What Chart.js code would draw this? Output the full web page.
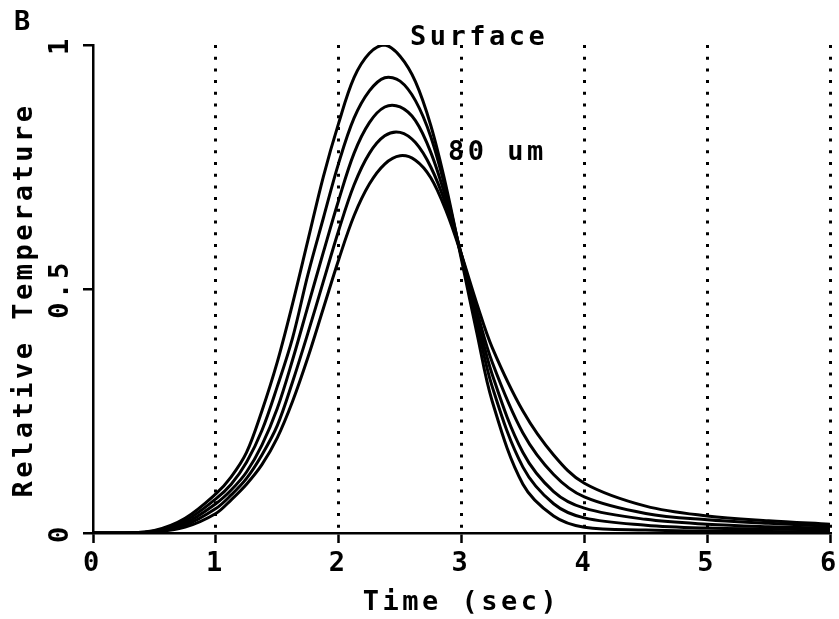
<!DOCTYPE html>
<html><head><meta charset="utf-8">
<script src="https://cdn.jsdelivr.net/npm/chart.js@4/dist/chart.umd.min.js"></script>
<style>html,body{margin:0;padding:0;background:#fff}canvas{display:block}</style>
</head><body>
<canvas id="c" width="839" height="619"></canvas>
<script>
// ---- data ----
const time    = [0, 0.25, 0.5, 0.75, 1.0, 1.125, 1.25, 1.375, 1.5, 1.625, 1.75, 1.875, 2.0, 2.125, 2.25, 2.375, 2.5, 2.625, 2.75, 2.875, 3.0, 3.125, 3.25, 3.5, 3.75, 4.0, 4.5, 5.0, 5.5, 6.0];
const surface = [0, 0, 0.005, 0.03, 0.08, 0.115, 0.165, 0.25, 0.35, 0.47, 0.60, 0.73, 0.84, 0.933, 0.983, 1.0, 0.977, 0.925, 0.835, 0.71, 0.56, 0.41, 0.27, 0.10, 0.035, 0.012, 0.006, 0.004, 0.003, 0.002];
const depth20 = [0, 0, 0.004, 0.025, 0.07, 0.10, 0.145, 0.21, 0.30, 0.40, 0.53, 0.645, 0.758, 0.85, 0.906, 0.933, 0.926, 0.886, 0.812, 0.70, 0.565, 0.43, 0.30, 0.135, 0.06, 0.031, 0.016, 0.010, 0.008, 0.006];
const depth40 = [0, 0, 0.003, 0.02, 0.06, 0.088, 0.125, 0.18, 0.255, 0.355, 0.465, 0.575, 0.682, 0.778, 0.841, 0.873, 0.873, 0.845, 0.78, 0.685, 0.57, 0.445, 0.325, 0.165, 0.085, 0.051, 0.028, 0.018, 0.013, 0.01];
const depth60 = [0, 0, 0.0025, 0.016, 0.05, 0.078, 0.112, 0.16, 0.22, 0.31, 0.41, 0.515, 0.62, 0.713, 0.778, 0.814, 0.821, 0.80, 0.75, 0.672, 0.57, 0.455, 0.35, 0.205, 0.12, 0.074, 0.04, 0.027, 0.02, 0.014];
const depth80 = [0, 0, 0.002, 0.012, 0.04, 0.068, 0.10, 0.14, 0.195, 0.27, 0.36, 0.46, 0.56, 0.65, 0.715, 0.756, 0.773, 0.764, 0.728, 0.66, 0.57, 0.47, 0.38, 0.25, 0.16, 0.102, 0.055, 0.035, 0.025, 0.018];
const seriesNames = ['Surface', '20 um', '40 um', '60 um', '80 um'];
const seriesValues = [surface, depth20, depth40, depth60, depth80];
const xTicks = [0, 1, 2, 3, 4, 5, 6];
const yTicks = [0, 0.5, 1];
const xTitle = 'Time (sec)';
const yTitle = 'Relative Temperature';
const panelLabel = 'B';
const notes = [{text: 'Surface', x: 2.58, y: 1.014}, {text: '80 um', x: 2.89, y: 0.779}];

// ---- styling ----
const FONT = 'DejaVu Sans Mono';
const SPACING = '3.5px';
Chart.defaults.font.family = FONT;
Chart.defaults.font.size = 27;
Chart.defaults.font.weight = 'bold';
Chart.defaults.color = '#000';

const spacingPlugin = {
  id: 'spacing',
  beforeUpdate(chart) { chart.ctx.letterSpacing = SPACING; },
  beforeDraw(chart) { chart.ctx.letterSpacing = SPACING; }
};
const notesPlugin = {
  id: 'notes',
  afterDraw(chart) {
    const {ctx, scales: {x, y}} = chart;
    ctx.save();
    ctx.letterSpacing = SPACING;
    ctx.fillStyle = '#000';
    ctx.font = 'bold 27px "' + FONT + '"';
    ctx.textBaseline = 'middle';
    ctx.textAlign = 'left';
    for (const n of notes) ctx.fillText(n.text, x.getPixelForValue(n.x), y.getPixelForValue(n.y));
    ctx.fillText(panelLabel, 14, 23);
    // y-axis title, rotated
    ctx.translate(25, 300);
    ctx.rotate(-Math.PI / 2);
    ctx.textAlign = 'center';
    ctx.fillText(yTitle, 0, 0);
    ctx.restore();
  }
};

new Chart(document.getElementById('c'), {
  type: 'line',
  data: {
    datasets: seriesValues.map((vals, k) => ({
      label: seriesNames[k],
      data: time.map((t, i) => ({x: t, y: vals[i]})),
      borderColor: '#000',
      borderWidth: 3,
      pointRadius: 0,
      fill: false,
      tension: 0.35
    }))
  },
  options: {
    responsive: false,
    animation: false,
    layout: {padding: {top: 45, right: 9, left: 0, bottom: 0}},
    plugins: {legend: {display: false}, tooltip: {enabled: false}},
    scales: {
      x: {
        type: 'linear', min: 0, max: 6,
        afterBuildTicks: s => { s.ticks = xTicks.map(v => ({value: v})); },
        ticks: {padding: 7, maxRotation: 0, font: {lineHeight: 1}, callback: v => String(v)},
        grid: {
          color: c => (c.tick && c.tick.value === 0) ? 'rgba(0,0,0,0)' : '#000',
          lineWidth: 3, tickLength: 10, tickWidth: 2.5, tickColor: '#000'
        },
        border: {display: true, color: '#000', width: 2.5, dash: [3, 8.7]},
        title: {display: true, text: xTitle, padding: {top: 0, bottom: 3}, font: {lineHeight: 1}},
        afterFit: s => { s.height = 86; s.paddingLeft = 0; s.paddingRight = 0; }
      },
      y: {
        type: 'linear', min: 0, max: 1,
        afterBuildTicks: s => { s.ticks = yTicks.map(v => ({value: v})); },
        ticks: {minRotation: 90, maxRotation: 90, crossAlign: 'center', padding: -8, font: {lineHeight: 1}, callback: v => String(v)},
        grid: {drawOnChartArea: false, lineWidth: 2.5, tickLength: 10, tickWidth: 2.5, tickColor: '#000'},
        border: {display: true, color: '#000', width: 2.5},
        title: {display: false},
        afterFit: s => { s.width = 93; s.paddingTop = 0; s.paddingBottom = 0; }
      }
    }
  },
  plugins: [spacingPlugin, notesPlugin]
});
</script>
</body></html>
